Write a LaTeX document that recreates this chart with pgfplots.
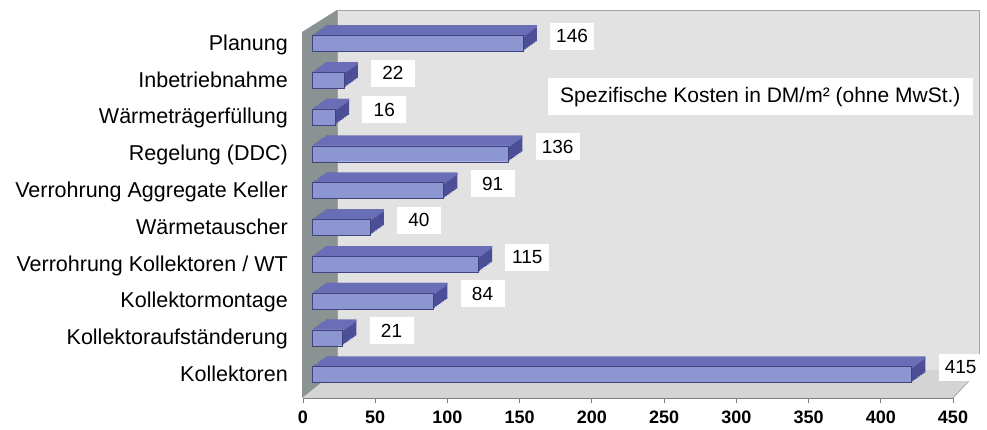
\documentclass[border=0pt]{standalone}
\usepackage{pgfplots}
\pgfplotsset{compat=1.18}
\usepackage{pgfplotstable}
\usepackage{fontspec}
\setmainfont{Liberation Sans}
\definecolor{frontc}{RGB}{140,150,208}
\definecolor{topc}{RGB}{106,110,182}
\definecolor{sidec}{RGB}{76,79,152}
\definecolor{wallc}{RGB}{226,226,226}
\definecolor{swallc}{RGB}{138,147,145}
\definecolor{floorc}{RGB}{212,212,212}
\definecolor{edgec}{RGB}{165,165,165}

\pgfplotstableread{
y v
0 415
1 21
2 84
3 115
4 40
5 91
6 136
7 16
8 22
9 146
}\costs

\begin{document}
\begin{tikzpicture}
\begin{scope}[x=1pt,y=-1pt,shift={(-303pt,398pt)}]
\useasboundingbox (0,0) rectangle (987,429);
\fill[wallc] (337,10) rectangle (979,370);
\draw[edgec, line width=0.8pt] (337,370) -- (337,10) -- (979,10) -- (979,370);
\fill[floorc] (302,398) -- (337,370) -- (979,370) -- (953,398) -- cycle;
\draw[edgec, line width=0.8pt] (953,398) -- (979,370);
\fill[swallc] (302,32) -- (337,10) -- (337,370) -- (302,398) -- cycle;
\end{scope}
\begin{axis}[
  at={(0pt,0pt)}, anchor=south west,
  scale only axis, width=650pt, height=388pt,
  xmin=0, xmax=450, ymin=-0.6386, ymax=9.9049,
  clip=false,
  axis x line*=bottom, axis y line*=left,
  y axis line style={draw=none},
  x axis line style={draw=gray, line width=0.8pt},
  xtick={0,50,...,450},
  ytick={0,...,9},
  yticklabels={Kollektoren, Kollektoraufständerung, Kollektormontage, Verrohrung Kollektoren / WT, Wärmetauscher, Verrohrung Aggregate Keller, Regelung (DDC), Wärmeträgerfüllung, Inbetriebnahme, Planung},
  tick align=outside,
  xtick style={draw=gray, line width=0.8pt},
  ytick style={draw=none},
  major tick length=5pt,
  /pgf/number format/assume math mode=true,
  xticklabel style={font=\fontsize{18}{21}\selectfont\bfseries, inner sep=0pt, anchor=north, yshift=-8pt},
  yticklabel style={font=\fontsize{21.5}{25}\selectfont, inner sep=0pt, anchor=base east, yshift=-7pt, xshift=-10pt},
]
\pgfplotsinvokeforeach{1,...,8}{
  \addplot[xbar, bar width=16pt, bar shift=0pt, fill=sidec, draw=none,
    xshift={(9+1.75*#1)*1pt}, yshift={(1.25*#1)*1pt}] table[x=v,y=y]{\costs};
}
\pgfplotsinvokeforeach{1,...,8}{
  \addplot[xbar, bar width=2.5pt, bar shift=6.75pt, fill=topc, draw=none,
    xshift={(9+1.75*#1)*1pt}, yshift={(1.25*#1)*1pt}] table[x=v,y=y]{\costs};
}
\addplot[xbar, bar width=16pt, bar shift=0pt, fill=frontc, draw=sidec!85!black, line width=0.4pt, xshift=9pt] table[x=v,y=y]{\costs};
\addplot[draw=none, mark=none, point meta=x, nodes near coords,
  nodes near coords style={anchor=west, fill=white, inner sep=0pt, minimum width=44pt, minimum height=27pt, font=\fontsize{19}{22}\selectfont, xshift=36pt, yshift=7pt, text=black}] table[x=v,y=y]{\costs};
\end{axis}
\begin{scope}[x=1pt,y=-1pt,shift={(-303pt,398pt)}]
\node[fill=white, anchor=north west, inner xsep=12pt, inner ysep=0pt, minimum height=37pt, font=\fontsize{21}{25}\selectfont] at (548,78) {Spezifische Kosten in DM/m² (ohne MwSt.)};
\end{scope}
\end{tikzpicture}
\end{document}
